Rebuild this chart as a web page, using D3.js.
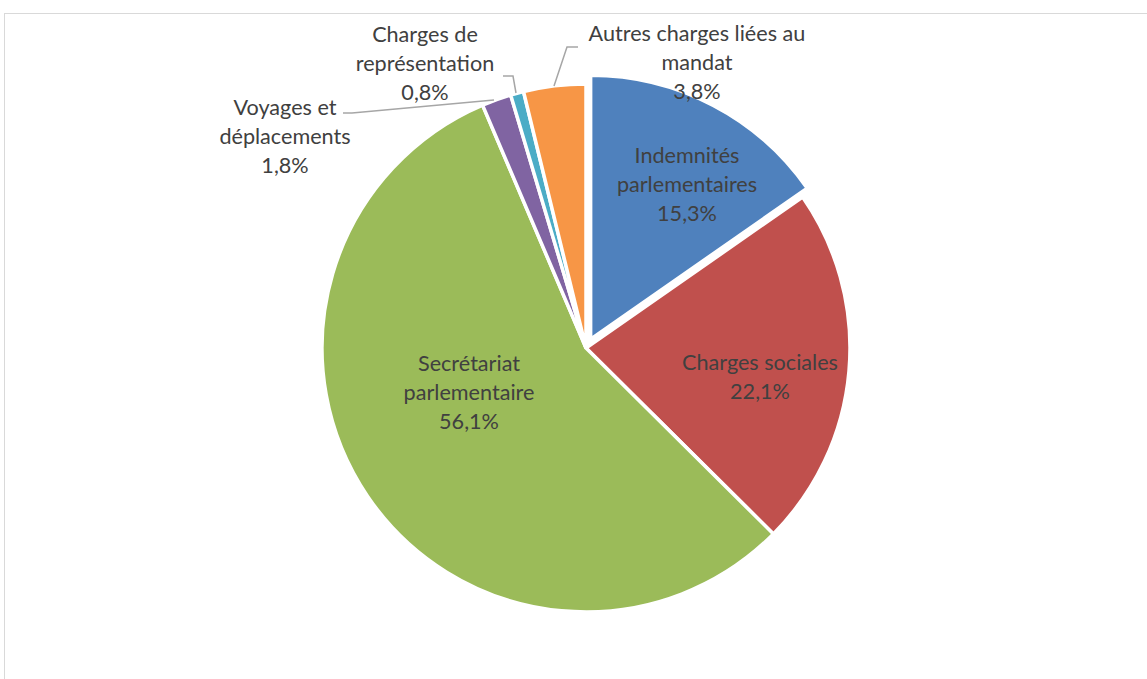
<!DOCTYPE html>
<html>
<head>
<meta charset="utf-8">
<script src="https://cdn.jsdelivr.net/npm/d3@7"></script>
<style>
  html, body { margin: 0; padding: 0; background: #fff; }
  svg { display: block; }
  text { font-family: Lato, "Open Sans", sans-serif; fill: #404040; }
</style>
</head>
<body>
<svg id="chart" width="1147" height="679"></svg>
<script>
// ---- data ----
const categories = [
  "Indemnités parlementaires",
  "Charges sociales",
  "Secrétariat parlementaire",
  "Voyages et déplacements",
  "Charges de représentation",
  "Autres charges liées au mandat"
];
const values = [15.3, 22.1, 56.1, 1.8, 0.8, 3.8];
const labelLines = [
  ["Indemnités", "parlementaires"],
  ["Charges sociales"],
  ["Secrétariat", "parlementaire"],
  ["Voyages et", "déplacements"],
  ["Charges de", "représentation"],
  ["Autres charges liées au", "mandat"]
];
const colors = ["#4F81BD", "#C0504D", "#9BBB59", "#8064A2", "#4BACC6", "#F79646"];
const exploded = [10, 0, 0, 0, 0, 0];

// ---- layout ----
const W = 1147, H = 679;
const cx = 586, cy = 348, R = 264;
const labelPos = [
  [687, 155], [760, 362], [469, 363], [285, 107], [425, 34], [697, 33]
];
const leaders = [
  null, null, null,
  [[343, 113], [352, 113], [494, 100]],
  [[503, 76], [513, 76], [516, 93]],
  [[578, 47], [567, 47], [554, 86]]
];
const lineH = 29;

const svg = d3.select("#chart");

// chart frame
svg.append("rect")
  .attr("x", 4.5).attr("y", 13.5)
  .attr("width", W + 10).attr("height", H + 10)
  .attr("fill", "none").attr("stroke", "#d9d9d9").attr("stroke-width", 1);

const pie = d3.pie().sort(null).value(d => d).startAngle(0).endAngle(2 * Math.PI);
const arcs = pie(values);
const arc = d3.arc().innerRadius(0).outerRadius(R);

const g = svg.append("g").attr("transform", `translate(${cx},${cy})`);
g.selectAll("path").data(arcs).join("path")
  .attr("d", arc)
  .attr("transform", (d, i) => {
    const a = (d.startAngle + d.endAngle) / 2;
    const e = exploded[i];
    return `translate(${e * Math.sin(a)},${-e * Math.cos(a)})`;
  })
  .attr("fill", (d, i) => colors[i])
  .attr("stroke", "#fff").attr("stroke-width", 3.5).attr("stroke-linejoin", "miter");

// leader lines
const line = d3.line();
svg.selectAll("path.leader").data(leaders.filter(d => d)).join("path")
  .attr("class", "leader")
  .attr("d", d => line(d))
  .attr("fill", "none").attr("stroke", "#a6a6a6").attr("stroke-width", 1.5);

// font size fit (Calibri 14pt equivalent)
const probe = svg.append("text").attr("font-size", 100).text("Charges sociales");
const fs = 100 * 156 / probe.node().getComputedTextLength();
probe.remove();

const fmt = v => d3.format(".1f")(v).replace(".", ",") + "%";
categories.forEach((c, i) => {
  const lines = labelLines[i].concat([fmt(values[i])]);
  const t = svg.append("text")
    .attr("text-anchor", "middle")
    .attr("font-size", fs);
  lines.forEach((l, k) => {
    t.append("tspan")
      .attr("x", labelPos[i][0])
      .attr("y", labelPos[i][1] + k * lineH)
      .attr("dominant-baseline", "central")
      .text(l);
  });
});
</script>
</body>
</html>
